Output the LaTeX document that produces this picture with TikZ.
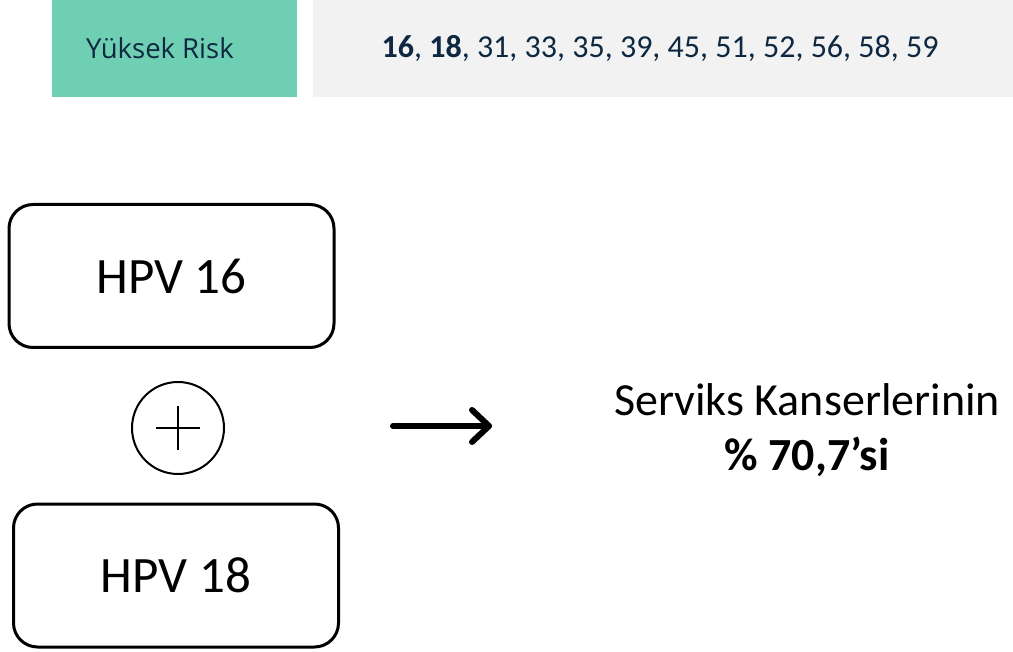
\documentclass[tikz,border=0pt]{standalone}
\usepackage{fontspec}
\setmainfont{Carlito}
\newfontfamily\labelfont{Open Sans}
\definecolor{riskgreen}{HTML}{6FCFB3}
\definecolor{listgray}{HTML}{F2F2F2}
\definecolor{navy}{HTML}{0E2841}
\begin{document}
\begin{tikzpicture}[x=1pt,y=-1pt,
  band/.style={inner sep=0pt, outer sep=0pt, minimum height=97pt},
  typebox/.style={draw=black, line width=3pt, rounded corners=24pt,
    minimum width=325pt, minimum height=143pt, inner sep=0pt,
    font=\fontsize{51}{61}\selectfont},
  pluscircle/.style={circle, draw=black, line width=2pt, minimum size=92pt, inner sep=0pt},
  bigarrow/.style={line width=6pt, line cap=round, line join=round}
]
\useasboundingbox (0,0) rectangle (1013,652);

% risk band across the top
\node[band, fill=riskgreen, minimum width=245pt] (risk) at (174.5,48.5) {};
\node[text=navy, inner sep=0pt, font=\labelfont\fontsize{27.5}{33}\selectfont]
  (risklabel) at (160,48.5) {Yüksek Risk};
\node[band, fill=listgray, minimum width=700pt] (types) at (663,48.5) {};
\node[text=navy, inner sep=0pt, font=\fontsize{32}{38}\selectfont]
  (typelist) at (660,48.5) {\textbf{16}, \textbf{18}, 31, 33, 35, 39, 45, 51, 52, 56, 58, 59};

% the two virus types
\node[typebox] (hpv16) at (171.5,276) {HPV 16};
\node[typebox] (hpv18) at (176,575.5) {HPV 18};

% plus sign between them
\node[pluscircle] (plus) at (178,428) {};
\draw[line width=2pt] ([xshift=-22pt]plus.center) -- ([xshift=22pt]plus.center);
\draw[line width=2pt] ([yshift=-22pt]plus.center) -- ([yshift=22pt]plus.center);

% arrow to the result
\coordinate (arrS) at (393,426);
\coordinate (arrE) at (489,426);
\draw[bigarrow] (arrS) -- (arrE);
\draw[bigarrow] (arrE) ++(-17,-16) -- (arrE) -- ++(-17,16);

\node[align=center, inner sep=0pt, font=\fontsize{46}{55}\selectfont]
  (result) at (807,430) {Serviks Kanserlerinin\\ \textbf{\% 70,7’si}};
\end{tikzpicture}
\end{document}
